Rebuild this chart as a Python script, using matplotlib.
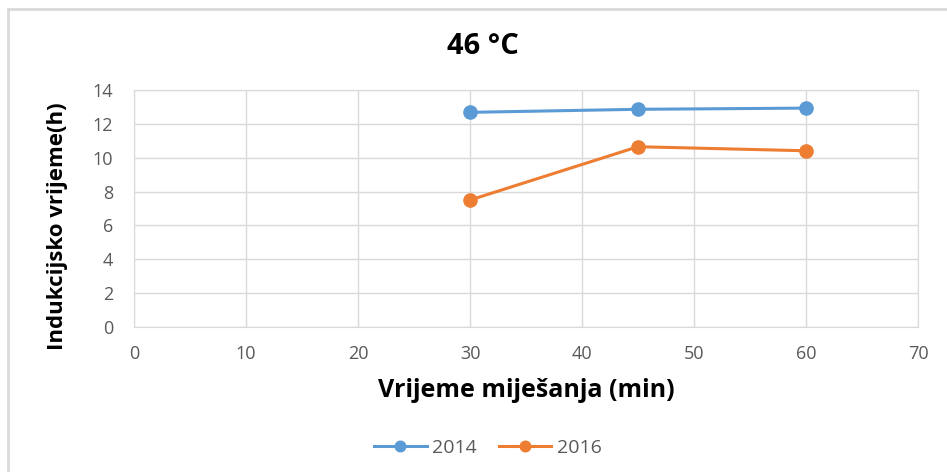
import matplotlib
matplotlib.use('Agg')
import matplotlib.pyplot as plt
from matplotlib.patches import Rectangle

# data
mix_time = [30, 45, 60]
induction_2014 = [12.68, 12.86, 12.93]
induction_2016 = [7.5, 10.65, 10.41]
series_labels = ['2014', '2016']
x_ticks = [0, 10, 20, 30, 40, 50, 60, 70]
y_ticks = [0, 2, 4, 6, 8, 10, 12, 14]

blue = '#5b9bd5'
orange = '#ed7d31'
grid_col = '#d9d9d9'
tick_col = '#595959'

plt.rcParams['font.family'] = ['Open Sans', 'DejaVu Sans']

fig = plt.figure(figsize=(9.47, 4.72), dpi=100)
# chart frame (light gray border like the Excel chart area)
fig.patches.append(Rectangle((8 / 947, -0.1), 1.2, 1 - 9 / 472 + 0.1, transform=fig.transFigure,
                             fill=False, edgecolor='#d9d9d9', linewidth=2))

ax = fig.add_axes([134 / 947, 1 - 327 / 472, 784 / 947, 237 / 472])

ax.plot(mix_time, induction_2014, color=blue, linewidth=2.2, marker='o', markersize=9.5, label=series_labels[0])
ax.plot(mix_time, induction_2016, color=orange, linewidth=2.2, marker='o', markersize=9.5, label=series_labels[1])

ax.set_xlim(0, 70)
ax.set_ylim(0, 14)
ax.set_xticks(x_ticks)
ax.set_yticks(y_ticks)
ax.grid(True, color=grid_col, linewidth=1)
ax.set_axisbelow(True)
for s in ax.spines.values():
    s.set_color(grid_col)
ax.tick_params(length=0, labelsize=13, colors=tick_col)
ax.tick_params(axis='x', pad=13)
ax.tick_params(axis='y', pad=15)

ax.set_xlabel('Vrijeme miješanja (min)', fontsize=18, fontweight='bold', va='center')
ax.xaxis.set_label_coords(0.5, -0.27)
ax.set_ylabel('Indukcijsko vrijeme(h)', fontsize=16, fontweight='bold', va='center')
ax.yaxis.set_label_coords(-0.098, 0.425)

fig.text(483 / 947, 1 - 47 / 472, '46 °C', ha='center', va='center', fontsize=21, fontweight='bold')

fig.legend(loc='center', bbox_to_anchor=(488 / 947, 1 - 448 / 472), ncol=2, frameon=False,
           fontsize=14, labelcolor=tick_col, handlelength=2.7, handletextpad=0.3,
           columnspacing=1.1, markerscale=0.8)

plt.savefig('out.png', dpi=100)
